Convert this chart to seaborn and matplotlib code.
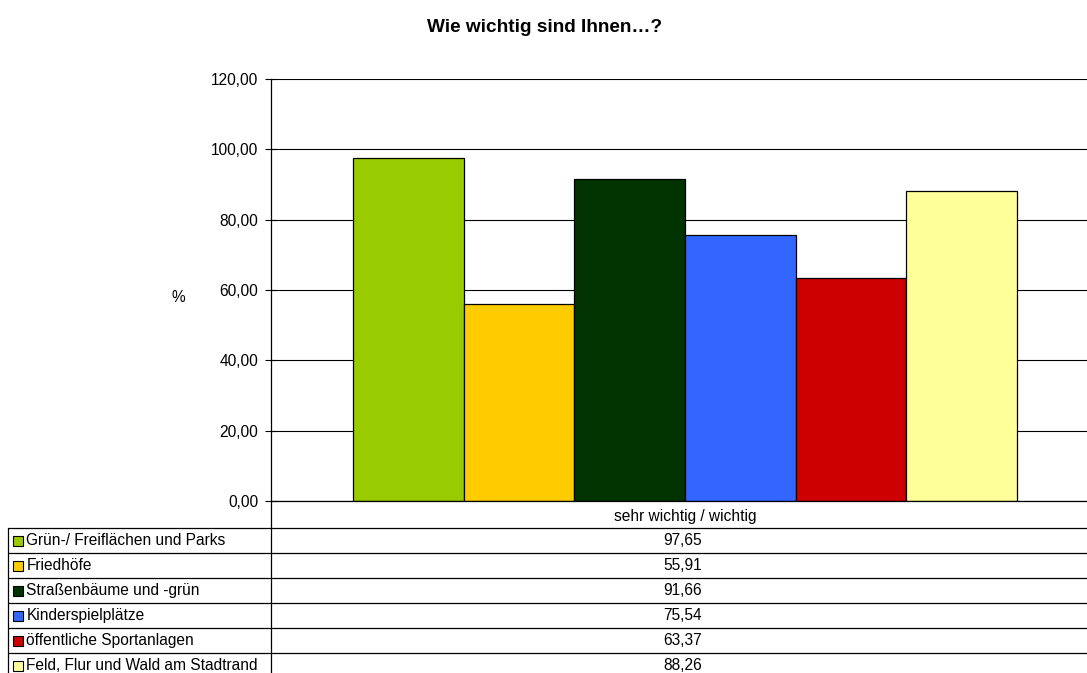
import pandas as pd
import seaborn as sns
import matplotlib.pyplot as plt
from matplotlib.patches import Rectangle

category = 'sehr wichtig / wichtig'
series = ['Grün-/ Freiflächen und Parks', 'Friedhöfe', 'Straßenbäume und -grün',
          'Kinderspielplätze', 'öffentliche Sportanlagen', 'Feld, Flur und Wald am Stadtrand']
values = [97.65, 55.91, 91.66, 75.54, 63.37, 88.26]
colors = ['#99CC00', '#FFCC00', '#003300', '#3366FF', '#CC0000', '#FFFF99']
yticks = [0, 20, 40, 60, 80, 100, 120]

sns.set_style('white')
plt.rcParams['font.family'] = ['Liberation Sans', 'DejaVu Sans']
plt.rcParams['text.color'] = 'black'
plt.rcParams['xtick.color'] = 'black'
plt.rcParams['ytick.color'] = 'black'

FS = 11.2

def fmt(v):
    return f'{v:.2f}'.replace('.', ',')

df = pd.DataFrame({'cat': [category] * len(series), 'series': series, 'value': values})

W, H = 1087, 673
fig = plt.figure(figsize=(W / 100, H / 100), dpi=100)

# table / frame layer in pixel coordinates
tab = fig.add_axes([0, 0, 1, 1], zorder=0)
tab.set_xlim(0, W)
tab.set_ylim(H, 0)
tab.axis('off')

# main chart
ax = fig.add_axes([271 / W, (H - 501) / H, (W - 271) / W, 422 / H], zorder=1)
ax.patch.set_alpha(0)
sns.barplot(data=df, x='cat', y='value', hue='series', palette=colors, hue_order=series,
            saturation=1, width=0.814, edgecolor='black', linewidth=0.9, legend=False, ax=ax)
ax.set_xlim(-0.5074, 0.4926)
ax.set_ylim(0, 120)
ax.set_yticks(yticks)
ax.set_yticklabels([fmt(t) for t in yticks], fontsize=FS)
ax.yaxis.grid(True, color='#000000', linewidth=0.8)
ax.set_axisbelow(True)
ax.tick_params(axis='y', left=True, direction='inout', length=8, width=0.8, color='#000000', pad=5)
ax.tick_params(axis='x', length=0, pad=6, labelsize=FS)
ax.set_xlabel('')
ax.set_ylabel('')
for s in ['top', 'right']:
    ax.spines[s].set_visible(False)
for s in ['left', 'bottom']:
    ax.spines[s].set_color('#000000')
    ax.spines[s].set_linewidth(0.9)

fig.text(545 / W, 1 - 28 / H, 'Wie wichtig sind Ihnen…?', ha='center', va='center',
         fontsize=13.7, fontweight='bold')
fig.text(178 / W, 1 - 297 / H, '%', ha='center', va='center', fontsize=FS)

# data table
row_top = 528
row_h = 25
tab.plot([271, 271], [501, H], color='#000000', lw=0.9)
tab.plot([8, 8], [row_top, H], color='#000000', lw=0.9)
for i in range(len(series)):
    y0 = row_top + i * row_h
    tab.plot([8, W], [y0, y0], color='#000000', lw=0.9)
    yc = y0 + row_h / 2
    tab.add_patch(Rectangle((12.5, yc - 5), 10, 10, facecolor=colors[i], edgecolor='black', lw=0.8))
    tab.text(26.5, yc, series[i], ha='left', va='center', fontsize=FS)
    tab.text(683, yc, fmt(values[i]), ha='center', va='center', fontsize=FS)

fig.savefig('out.png', dpi=100)
